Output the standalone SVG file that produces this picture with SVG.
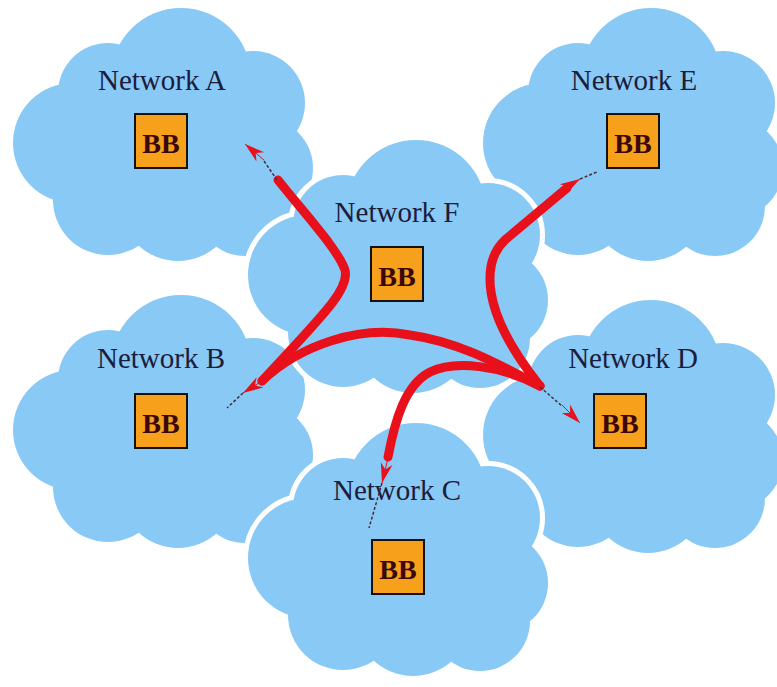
<svg xmlns="http://www.w3.org/2000/svg" xmlns:xlink="http://www.w3.org/1999/xlink" width="777" height="687" viewBox="0 0 777 687">
<style>
.halo{fill:#ffffff;stroke:#ffffff;stroke-width:10}
.body{fill:#89c9f5}
.lbl{font-family:"Liberation Serif","Times New Roman",serif;font-size:29px;fill:#1c1c3c;text-anchor:middle}
.bbbox{fill:#f7a01c;stroke:#111;stroke-width:2}
.bb{font-family:"Liberation Serif","Times New Roman",serif;font-size:28px;font-weight:bold;fill:#3a0808;text-anchor:middle}
.thick{fill:none;stroke:#e8101a;stroke-width:9;stroke-linecap:round;stroke-linejoin:round}
.thin{fill:none;stroke:#4a2a3a;stroke-width:1.5;stroke-dasharray:3 2}
.ah{fill:none;stroke:#e8101a;stroke-width:1;marker-end:url(#head)}
</style>
<defs>
<g id="cloud">
<circle cx="95" cy="85" r="50"/>
<circle cx="168" cy="70" r="70"/>
<circle cx="240" cy="95" r="52"/>
<circle cx="60" cy="135" r="60"/>
<circle cx="250" cy="160" r="50"/>
<circle cx="95" cy="192" r="55"/>
<circle cx="165" cy="195" r="58"/>
<circle cx="232" cy="198" r="50"/>
<ellipse cx="155" cy="135" rx="115" ry="90"/>
</g>
<marker id="head" markerUnits="userSpaceOnUse" markerWidth="22" markerHeight="14" refX="20" refY="7" orient="auto">
<path d="M0,1 L20,7 L0,13 L6,7 z" fill="#e8101a"/>
</marker>
</defs>
<rect width="777" height="687" fill="#ffffff"/>
<g id="netA">
<use xlink:href="#cloud" class="halo" transform="translate(13,8)"/>
<use xlink:href="#cloud" class="body" transform="translate(13,8)"/>
<text class="lbl" x="162" y="90">Network A</text>
<rect class="bbbox" x="135" y="114" width="52" height="54"/>
<text class="bb" x="161" y="153">BB</text>
</g>
<g id="netE">
<use xlink:href="#cloud" class="halo" transform="translate(483,8)"/>
<use xlink:href="#cloud" class="body" transform="translate(483,8)"/>
<text class="lbl" x="634" y="90">Network E</text>
<rect class="bbbox" x="607" y="114" width="52" height="54"/>
<text class="bb" x="633" y="153">BB</text>
</g>
<g id="netB">
<use xlink:href="#cloud" class="halo" transform="translate(13,295)"/>
<use xlink:href="#cloud" class="body" transform="translate(13,295)"/>
<text class="lbl" x="161" y="368">Network B</text>
<rect class="bbbox" x="135" y="394" width="52" height="54"/>
<text class="bb" x="161" y="433">BB</text>
</g>
<g id="netD">
<use xlink:href="#cloud" class="halo" transform="translate(483,300)"/>
<use xlink:href="#cloud" class="body" transform="translate(483,300)"/>
<text class="lbl" x="633" y="368">Network D</text>
<rect class="bbbox" x="594" y="394" width="52" height="54"/>
<text class="bb" x="620" y="433">BB</text>
</g>
<g id="netF">
<use xlink:href="#cloud" class="halo" transform="translate(248,140)"/>
<use xlink:href="#cloud" class="body" transform="translate(248,140)"/>
<text class="lbl" x="397" y="222">Network F</text>
<rect class="bbbox" x="371" y="247" width="52" height="54"/>
<text class="bb" x="397" y="286">BB</text>
</g>
<g id="netC">
<use xlink:href="#cloud" class="halo" transform="translate(248,423)"/>
<use xlink:href="#cloud" class="body" transform="translate(248,423)"/>
<text class="lbl" x="397" y="500">Network C</text>
<rect class="bbbox" x="372" y="540" width="52" height="54"/>
<text class="bb" x="398" y="579">BB</text>
</g>
<g id="connectors">
<path class="thick" d="M278,180 C310,220 338,250 345,270 C350,290 320,318 262,381"/>
<path class="thick" d="M567,188 L505,240 Q486,258 491,292 Q497,332 540,386"/>
<path class="thick" d="M262,381 C300,345 360,325 410,335 C460,342 500,365 540,386"/>
<path class="thick" d="M388,457 C395,420 405,385 430,372 C455,360 500,365 540,386"/>
<path class="thin" d="M264,161 L277,180"/>
<path class="thin" d="M243,393 L227,408"/>
<path class="thin" d="M580,179 L597,172"/>
<path class="thin" d="M540,387 L562,406"/>
<path class="thin" d="M382,483 L369,528"/>
<path class="ah" d="M264,160 L245,144"/>
<path class="ah" d="M262,381 L243,393"/>
<path class="ah" d="M565,188 L580,179"/>
<path class="ah" d="M562,405 L580,423"/>
<path class="ah" d="M388,458 L382,483"/>
</g>
</svg>
